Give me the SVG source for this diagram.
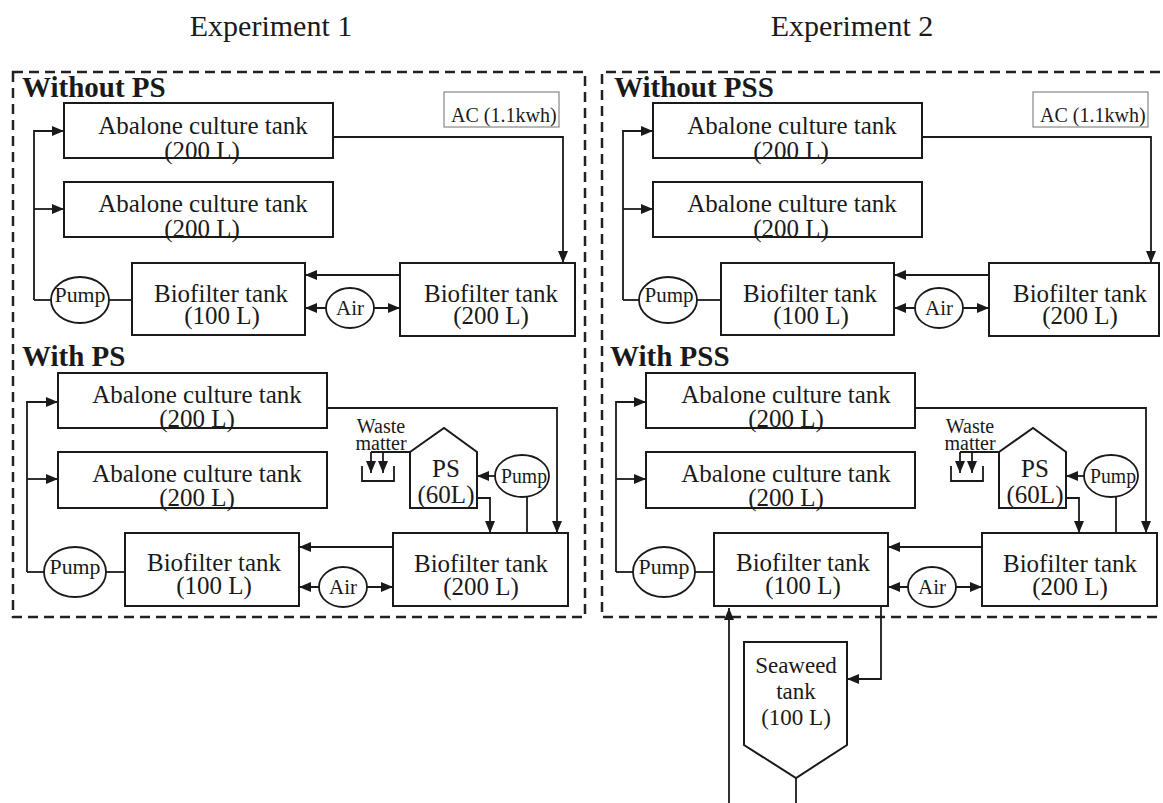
<svg xmlns="http://www.w3.org/2000/svg" width="1163" height="803" viewBox="0 0 1163 803">
<defs>
<marker id="ah" markerWidth="12" markerHeight="10" refX="12" refY="5" orient="auto-start-reverse" markerUnits="userSpaceOnUse">
<path d="M0,0 L12,5 L0,10 z" fill="#1a1a1a"/>
</marker>
</defs>
<style>
.box{fill:#fff;stroke:#1a1a1a;stroke-width:2}
.ln{fill:none;stroke:#1a1a1a;stroke-width:1.8}
.arr{marker-end:url(#ah)}
.dbl{marker-start:url(#ah);marker-end:url(#ah)}
.el{fill:#fff;stroke:#1a1a1a;stroke-width:1.8}
.t{font-family:"Liberation Serif","Times New Roman",serif;fill:#1a1a1a;text-anchor:middle;font-size:25px}
.s{font-size:21px}
.w{font-size:20px}
.h{font-family:"Liberation Serif","Times New Roman",serif;fill:#1a1a1a;font-weight:bold;font-size:29px}
.ti{font-size:30px}
.panel{fill:none;stroke:#222;stroke-width:2.5;stroke-dasharray:10 6}
.ac{fill:#fff;stroke:#888;stroke-width:1.2}
</style>
<rect width="1163" height="803" fill="#fff"/>

<g id="titles">
<text class="t ti" x="271" y="36">Experiment 1</text>
<text class="t ti" x="852" y="36">Experiment 2</text>
</g>

<g id="panels">
<rect class="panel" x="13" y="72" width="572" height="545"/>
<path class="panel" d="M1160,72 H602 V617 H1160"/>
</g>

<g id="headings">
<text class="h" x="22" y="97">Without PS</text>
<text class="h" x="22" y="366">With PS</text>
<text class="h" x="614" y="97">Without PSS</text>
<text class="h" x="610" y="366">With PSS</text>
</g>

<g id="connectors">
<!-- Exp1 without PS -->
<path class="ln arr" d="M34,300 V131 H64"/>
<path class="ln arr" d="M34,209 H64"/>
<path class="ln" d="M51,300 H34"/>
<path class="ln" d="M109,300 H132"/>
<path class="ln arr" d="M333,137 H563 V263"/>
<path class="ln arr" d="M400,275 H305"/>
<path class="ln dbl" d="M305,308 H400"/>
<!-- Exp1 with PS -->
<path class="ln arr" d="M27,572 V402 H58"/>
<path class="ln arr" d="M27,479 H58"/>
<path class="ln" d="M44,572 H27"/>
<path class="ln" d="M106,572 H125"/>
<path class="ln arr" d="M327,408 H557 V533"/>
<path class="ln arr" d="M393,547 H299"/>
<path class="ln dbl" d="M299,587 H393"/>
<path class="ln arr" d="M495,476 H477"/>
<path class="ln" d="M527,497 V533"/>
<path class="ln arr" d="M477,498 H490 V533"/>
<path class="ln" d="M371,452 H410"/>
<path class="ln arr" d="M371,452 V473"/>
<path class="ln arr" d="M383,452 V473"/>
<!-- Exp2 without PSS -->
<path class="ln arr" d="M623,300 V131 H653"/>
<path class="ln arr" d="M623,209 H653"/>
<path class="ln" d="M639,300 H623"/>
<path class="ln" d="M697,300 H721"/>
<path class="ln arr" d="M922,137 H1151 V263"/>
<path class="ln arr" d="M989,275 H894"/>
<path class="ln dbl" d="M894,308 H989"/>
<!-- Exp2 with PSS -->
<path class="ln arr" d="M616,572 V402 H646"/>
<path class="ln arr" d="M616,479 H646"/>
<path class="ln" d="M633,572 H616"/>
<path class="ln" d="M695,572 H714"/>
<path class="ln arr" d="M916,408 H1146 V533"/>
<path class="ln arr" d="M982,547 H888"/>
<path class="ln dbl" d="M888,587 H982"/>
<path class="ln arr" d="M1084,476 H1066"/>
<path class="ln" d="M1116,497 V533"/>
<path class="ln arr" d="M1066,498 H1079 V533"/>
<path class="ln" d="M960,452 H999"/>
<path class="ln arr" d="M960,452 V473"/>
<path class="ln arr" d="M972,452 V473"/>
<!-- seaweed loop -->
<path class="ln arr" d="M881,606 V679 H847"/>
<path class="ln arr" d="M729,803 V608"/>
<path class="ln" d="M796,778 V803"/>
</g>

<!-- ===== Experiment 1, without PS ===== -->
<g id="e1a-abalone1">
<rect class="box" x="64" y="103" width="269" height="55"/>
<text class="t" x="203" y="134">Abalone culture tank</text>
<text class="t" x="202" y="159">(200 L)</text>
</g>
<g id="e1a-abalone2">
<rect class="box" x="64" y="182" width="269" height="55"/>
<text class="t" x="203" y="212">Abalone culture tank</text>
<text class="t" x="202" y="237">(200 L)</text>
</g>
<g id="e1a-ac">
<rect class="ac" x="444" y="92" width="115" height="35"/>
<text class="t w" x="451" y="122" style="text-anchor:start">AC (1.1kwh)</text>
</g>
<g id="e1a-pump">
<ellipse class="el" cx="80" cy="300" rx="29" ry="23"/>
<text class="t s" x="80" y="302" textLength="51" lengthAdjust="spacingAndGlyphs">Pump</text>
</g>
<g id="e1a-bio100">
<rect class="box" x="132" y="263" width="173" height="72"/>
<text class="t" x="221" y="302">Biofilter tank</text>
<text class="t" x="222" y="324">(100 L)</text>
</g>
<g id="e1a-air">
<ellipse class="el" cx="350" cy="308" rx="24" ry="20"/>
<text class="t s" x="350" y="315">Air</text>
</g>
<g id="e1a-bio200">
<rect class="box" x="400" y="263" width="175" height="73"/>
<text class="t" x="491" y="302">Biofilter tank</text>
<text class="t" x="491" y="324">(200 L)</text>
</g>

<!-- ===== Experiment 1, with PS ===== -->
<g id="e1b-abalone1">
<rect class="box" x="58" y="373" width="269" height="55"/>
<text class="t" x="197" y="403">Abalone culture tank</text>
<text class="t" x="197" y="427">(200 L)</text>
</g>
<g id="e1b-abalone2">
<rect class="box" x="58" y="452" width="269" height="56"/>
<text class="t" x="197" y="482">Abalone culture tank</text>
<text class="t" x="197" y="506">(200 L)</text>
</g>
<g id="e1b-waste">
<text class="t w" x="381" y="433">Waste</text>
<text class="t w" x="381" y="450">matter</text>
<path class="ln" d="M362,466 V481 H394 V466"/>
</g>
<g id="e1b-ps">
<path class="box" d="M410,452 L444,428 L477,452 V508 H410 Z"/>
<text class="t" x="446" y="477">PS</text>
<text class="t" x="446" y="503">(60L)</text>
</g>
<g id="e1b-pump2">
<ellipse class="el" cx="522" cy="476" rx="27" ry="21"/>
<text class="t w" x="524" y="483" textLength="46" lengthAdjust="spacingAndGlyphs">Pump</text>
</g>
<g id="e1b-pump">
<ellipse class="el" cx="75" cy="572" rx="31" ry="25"/>
<text class="t s" x="75" y="574" textLength="51" lengthAdjust="spacingAndGlyphs">Pump</text>
</g>
<g id="e1b-bio100">
<rect class="box" x="125" y="533" width="174" height="73"/>
<text class="t" x="214" y="571">Biofilter tank</text>
<text class="t" x="214" y="594">(100 L)</text>
</g>
<g id="e1b-air">
<ellipse class="el" cx="343" cy="587" rx="24" ry="20"/>
<text class="t s" x="343" y="594">Air</text>
</g>
<g id="e1b-bio200">
<rect class="box" x="393" y="533" width="175" height="73"/>
<text class="t" x="481" y="572">Biofilter tank</text>
<text class="t" x="481" y="595">(200 L)</text>
</g>

<!-- ===== Experiment 2, without PSS ===== -->
<g id="e2a-abalone1">
<rect class="box" x="653" y="103" width="269" height="55"/>
<text class="t" x="792" y="134">Abalone culture tank</text>
<text class="t" x="791" y="159">(200 L)</text>
</g>
<g id="e2a-abalone2">
<rect class="box" x="653" y="182" width="269" height="55"/>
<text class="t" x="792" y="212">Abalone culture tank</text>
<text class="t" x="791" y="237">(200 L)</text>
</g>
<g id="e2a-ac">
<rect class="ac" x="1033" y="92" width="115" height="35"/>
<text class="t w" x="1040" y="122" style="text-anchor:start">AC (1.1kwh)</text>
</g>
<g id="e2a-pump">
<ellipse class="el" cx="668" cy="300" rx="29" ry="23"/>
<text class="t s" x="669" y="302" textLength="49" lengthAdjust="spacingAndGlyphs">Pump</text>
</g>
<g id="e2a-bio100">
<rect class="box" x="721" y="263" width="173" height="72"/>
<text class="t" x="810" y="302">Biofilter tank</text>
<text class="t" x="811" y="324">(100 L)</text>
</g>
<g id="e2a-air">
<ellipse class="el" cx="939" cy="308" rx="24" ry="20"/>
<text class="t s" x="939" y="315">Air</text>
</g>
<g id="e2a-bio200">
<rect class="box" x="989" y="263" width="170" height="73"/>
<text class="t" x="1080" y="302">Biofilter tank</text>
<text class="t" x="1080" y="324">(200 L)</text>
</g>

<!-- ===== Experiment 2, with PSS ===== -->
<g id="e2b-abalone1">
<rect class="box" x="646" y="373" width="269" height="55"/>
<text class="t" x="786" y="403">Abalone culture tank</text>
<text class="t" x="786" y="427">(200 L)</text>
</g>
<g id="e2b-abalone2">
<rect class="box" x="646" y="452" width="269" height="56"/>
<text class="t" x="786" y="482">Abalone culture tank</text>
<text class="t" x="786" y="506">(200 L)</text>
</g>
<g id="e2b-waste">
<text class="t w" x="970" y="433">Waste</text>
<text class="t w" x="970" y="450">matter</text>
<path class="ln" d="M951,466 V481 H983 V466"/>
</g>
<g id="e2b-ps">
<path class="box" d="M999,452 L1033,428 L1066,452 V508 H999 Z"/>
<text class="t" x="1035" y="477">PS</text>
<text class="t" x="1035" y="503">(60L)</text>
</g>
<g id="e2b-pump2">
<ellipse class="el" cx="1111" cy="476" rx="27" ry="21"/>
<text class="t w" x="1113" y="483" textLength="46" lengthAdjust="spacingAndGlyphs">Pump</text>
</g>
<g id="e2b-pump">
<ellipse class="el" cx="664" cy="572" rx="31" ry="25"/>
<text class="t s" x="664" y="574" textLength="51" lengthAdjust="spacingAndGlyphs">Pump</text>
</g>
<g id="e2b-bio100">
<rect class="box" x="714" y="533" width="174" height="73"/>
<text class="t" x="803" y="571">Biofilter tank</text>
<text class="t" x="803" y="594">(100 L)</text>
</g>
<g id="e2b-air">
<ellipse class="el" cx="932" cy="587" rx="24" ry="20"/>
<text class="t s" x="932" y="594">Air</text>
</g>
<g id="e2b-bio200">
<rect class="box" x="982" y="533" width="175" height="73"/>
<text class="t" x="1070" y="572">Biofilter tank</text>
<text class="t" x="1070" y="595">(200 L)</text>
</g>

<g id="seaweed">
<path class="box" d="M744,642 H847 V745 L796,778 L744,745 Z"/>
<text class="t" style="font-size:23px" x="796" y="673">Seaweed</text>
<text class="t" style="font-size:23px" x="796" y="699">tank</text>
<text class="t" style="font-size:23px" x="796" y="725">(100 L)</text>
</g>
</svg>
